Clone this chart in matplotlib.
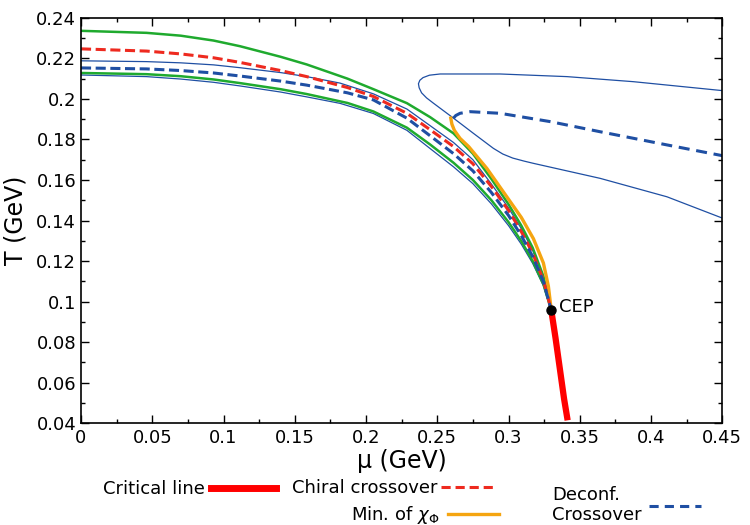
import matplotlib
matplotlib.use("Agg")
import matplotlib.pyplot as plt
from matplotlib.lines import Line2D
from matplotlib.ticker import MultipleLocator, FuncFormatter

# ---------------- data (mu in GeV, T in GeV) ----------------
cep_mu, cep_T = 0.330, 0.0958

crit_mu = [0.330, 0.3330, 0.3362, 0.3390, 0.3415]
crit_T = [0.0958, 0.0820, 0.0660, 0.0520, 0.0414]

green_up_mu = [0.0, 0.046, 0.070, 0.093, 0.1116, 0.140, 0.1584, 0.187, 0.2052, 0.2287, 0.245, 0.2614,
               0.275, 0.288, 0.300, 0.309, 0.317, 0.3245, 0.330]
green_up_T = [0.2336, 0.2326, 0.2312, 0.2288, 0.2260, 0.2208, 0.2170, 0.2100, 0.2048, 0.1979, 0.1910, 0.1830,
              0.1730, 0.1605, 0.1480, 0.1375, 0.1265, 0.1125, 0.0958]

thin_up_mu = [0.0, 0.046, 0.070, 0.093, 0.1116, 0.140, 0.1584, 0.1818, 0.2052, 0.2287, 0.245, 0.2614,
              0.275, 0.288, 0.300, 0.309, 0.317, 0.3245, 0.330]
thin_up_T = [0.2188, 0.2184, 0.2178, 0.2168, 0.2154, 0.2130, 0.2110, 0.2078, 0.2025, 0.1950, 0.1868, 0.1785,
             0.1700, 0.1580, 0.1462, 0.1360, 0.1252, 0.1115, 0.0958]

chiral_mu = [0.0, 0.046, 0.070, 0.093, 0.1116, 0.140, 0.1584, 0.187, 0.2052, 0.2287, 0.245, 0.2614,
             0.275, 0.288, 0.300, 0.309, 0.317, 0.3245, 0.330]
chiral_T = [0.2247, 0.2236, 0.2222, 0.2203, 0.2180, 0.2140, 0.2110, 0.2056, 0.2012, 0.1929, 0.1848, 0.1765,
            0.1680, 0.1568, 0.1450, 0.1345, 0.1238, 0.1105, 0.0958]

deconf_mu = [0.0, 0.046, 0.070, 0.093, 0.1116, 0.140, 0.1584, 0.187, 0.2052, 0.2287, 0.245, 0.2614,
             0.275, 0.288, 0.300, 0.309, 0.317, 0.3245, 0.330]
deconf_T = [0.2153, 0.2148, 0.2140, 0.2128, 0.2113, 0.2088, 0.2068, 0.2030, 0.1995, 0.1905, 0.1818, 0.1730,
            0.1645, 0.1538, 0.1425, 0.1325, 0.1222, 0.1098, 0.0958]

green_lo_mu = [0.0, 0.046, 0.070, 0.093, 0.1116, 0.140, 0.1584, 0.187, 0.2052, 0.2287, 0.245, 0.2614,
               0.275, 0.288, 0.300, 0.309, 0.317, 0.3245, 0.330]
green_lo_T = [0.2128, 0.2122, 0.2112, 0.2096, 0.2078, 0.2048, 0.2024, 0.1980, 0.1938, 0.1858, 0.1775, 0.1685,
              0.1600, 0.1500, 0.1392, 0.1298, 0.1200, 0.1085, 0.0958]

thin_lo_mu = [0.0, 0.046, 0.070, 0.093, 0.1116, 0.140, 0.1584, 0.1818, 0.2052, 0.2287, 0.245, 0.2614,
              0.275, 0.288, 0.300, 0.309, 0.317, 0.3245, 0.330]
thin_lo_T = [0.2118, 0.2110, 0.2098, 0.2082, 0.2064, 0.2034, 0.2010, 0.1978, 0.1928, 0.1845, 0.1755, 0.1665,
             0.1582, 0.1482, 0.1375, 0.1283, 0.1188, 0.1078, 0.0958]

orange_mu = [0.2595, 0.2603, 0.2620, 0.2660, 0.2720, 0.2848, 0.2975, 0.3090, 0.3175, 0.3245, 0.3280, 0.330]
orange_T = [0.1905, 0.1875, 0.1845, 0.1805, 0.1765, 0.1657, 0.1530, 0.1415, 0.1310, 0.1190, 0.1075, 0.0958]

nose_mu = [0.450, 0.3877, 0.341, 0.2941, 0.252, 0.2445, 0.2400, 0.2378, 0.2368, 0.2373, 0.2390, 0.2425, 0.2473,
           0.2614, 0.2754, 0.2894, 0.2960, 0.3030, 0.3110, 0.3175, 0.3643, 0.4112, 0.450]
nose_T = [0.2041, 0.2085, 0.2110, 0.2123, 0.2123, 0.2117, 0.2105, 0.2092, 0.2075, 0.2055, 0.2030, 0.2005, 0.1979,
          0.1905, 0.1830, 0.1756, 0.1728, 0.1708, 0.1693, 0.1682, 0.1608, 0.1517, 0.1412]

deconf2_mu = [0.2614, 0.2630, 0.2660, 0.2731, 0.2941, 0.3292, 0.3643, 0.4112, 0.450]
deconf2_T = [0.1905, 0.1918, 0.1929, 0.1937, 0.1929, 0.1888, 0.1838, 0.1773, 0.1720]

x_ticks = [0, 0.05, 0.1, 0.15, 0.2, 0.25, 0.3, 0.35, 0.4, 0.45]
y_ticks = [0.04, 0.06, 0.08, 0.1, 0.12, 0.14, 0.16, 0.18, 0.2, 0.22, 0.24]

# ---------------- styles ----------------
GREEN = "#1faa2e"
RED = "#ee2a1f"
CRIT = "#ff0000"
BLUE = "#1f4fa3"
ORANGE = "#f5a511"

plt.rcParams["font.family"] = ["DejaVu Sans"]

fig = plt.figure(figsize=(7.5, 5.25), dpi=100)
ax = fig.add_axes([0.108, 0.194, 0.855, 0.772])

ax.plot(nose_mu, nose_T, color=BLUE, lw=0.9)
ax.plot(thin_up_mu, thin_up_T, color=BLUE, lw=0.9)
ax.plot(thin_lo_mu, thin_lo_T, color=BLUE, lw=0.9)
ax.plot(green_up_mu, green_up_T, color=GREEN, lw=1.8)
ax.plot(green_lo_mu, green_lo_T, color=GREEN, lw=1.8)
ax.plot(orange_mu, orange_T, color=ORANGE, lw=2.4)
ax.plot(chiral_mu, chiral_T, color=RED, lw=2.2, dashes=(3.3, 1.5))
ax.plot(deconf_mu, deconf_T, color=BLUE, lw=2.2, dashes=(3.3, 1.5))
ax.plot(deconf2_mu, deconf2_T, color=BLUE, lw=2.2, dashes=(3.6, 2.2))
ax.plot(crit_mu, crit_T, color=CRIT, lw=4.5, solid_capstyle="butt")
ax.plot([cep_mu], [cep_T], "o", color="black", ms=6.5)
ax.text(cep_mu + 0.0055, cep_T + 0.0015, "CEP", fontsize=13, va="center", ha="left")

ax.set_xlim(0, 0.45)
ax.set_ylim(0.04, 0.24)
ax.set_xticks(x_ticks)
ax.set_yticks(y_ticks)
ax.xaxis.set_minor_locator(MultipleLocator(0.025))
ax.yaxis.set_minor_locator(MultipleLocator(0.01))
fmt = FuncFormatter(lambda v, p: "%g" % round(v, 4))
ax.xaxis.set_major_formatter(fmt)
ax.yaxis.set_major_formatter(fmt)
ax.tick_params(which="both", direction="in", top=True, right=True, labelsize=13)
ax.tick_params(which="major", length=6, width=1)
ax.tick_params(which="minor", length=3, width=1)
ax.tick_params(axis="x", pad=4)
for s in ax.spines.values():
    s.set_linewidth(1.2)

ax.set_xlabel("μ (GeV)", fontsize=17, labelpad=2)
ax.set_ylabel("T (GeV)", fontsize=17, labelpad=6)

# ---------------- legend (text first, key after) ----------------
def entry(handle, label, x, y, hl, pad):
    fig.legend([handle], [label], loc="center left", bbox_to_anchor=(x / 750, 1 - y / 525),
               bbox_transform=fig.transFigure, markerfirst=False, frameon=False,
               fontsize=13, handlelength=hl, handletextpad=pad, borderpad=0, borderaxespad=0)

entry(Line2D([], [], color=CRIT, lw=5), "Critical line", 103, 489, 3.6, 0.35)
entry(Line2D([], [], color=RED, lw=2.2, dashes=(3, 1.6)), "Chiral crossover", 292, 488, 3.0, 0.2)
entry(Line2D([], [], color=ORANGE, lw=2.4), "Min. of $\\chi_\\Phi$", 351, 515, 2.8, 0.5)
entry(Line2D([], [], color=BLUE, lw=2.2, dashes=(3, 2)), "Deconf.\nCrossover", 552, 505, 2.9, 0.4)

fig.savefig("out.png", dpi=100)
